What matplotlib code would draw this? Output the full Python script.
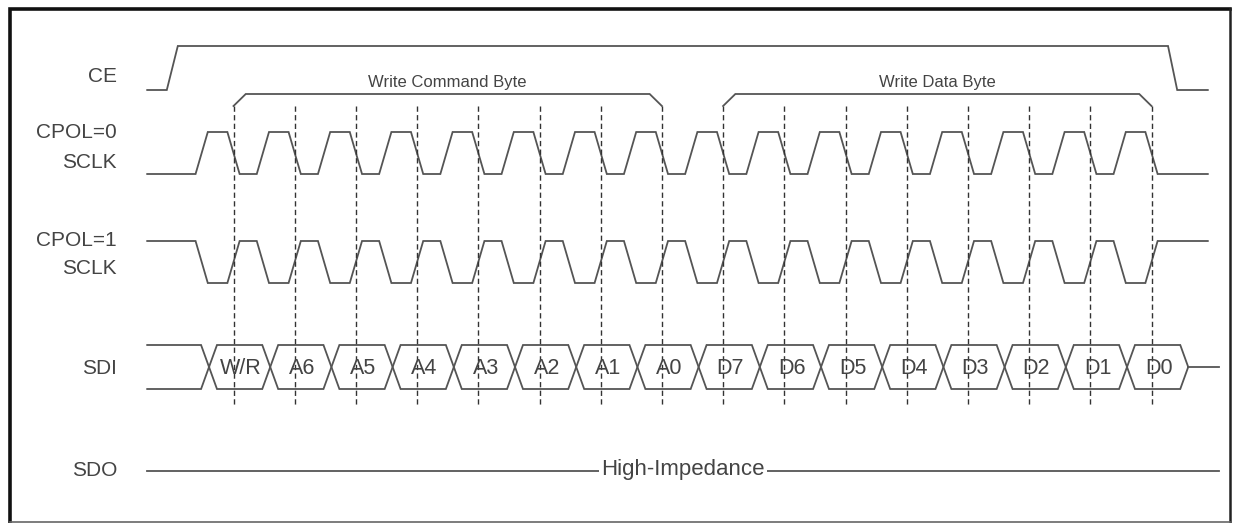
import matplotlib
matplotlib.use("Agg")
import matplotlib.pyplot as plt
from matplotlib.patches import Polygon

plt.rcParams['font.family'] = ['Liberation Sans', 'DejaVu Sans']

# timing data, in SCLK periods (0 = first falling edge of SCLK with CPOL=0)
signal_labels = ["CE", "CPOL=0", "SCLK", "CPOL=1", "SCLK", "SDI", "SDO"]
bit_labels = ["W/R", "A6", "A5", "A4", "A3", "A2", "A1", "A0",
              "D7", "D6", "D5", "D4", "D3", "D2", "D1", "D0"]
byte_groups = ["Write Command Byte", "Write Data Byte"]
byte_first_bit = [0, 8]
byte_last_bit = [7, 15]
n_clocks = 16
t_start = -1.41
t_end = 15.92
sdi_end = 16.10
ce_rise = [-1.09, -0.91]
ce_fall = [15.27, 15.42]
rise_offset = -0.52     # rising edge of CPOL=0 relative to next falling edge
data_offset = -0.40     # SDI changes this much before each sampling edge
edge_w = 0.20
x_half = 0.13
hiz_text = "High-Impedance"

# layout (pixel rows, y grows downwards)
W, H = 1233, 523
px_per_t = 61.2
x0_px = 233.5
ce_hi, ce_lo = 46, 90
c0_hi, c0_lo = 132, 174
c1_hi, c1_lo = 241, 283
sdi_top, sdi_bot = 345, 389
sdi_mid = (sdi_top + sdi_bot) / 2
sdo_y = 471
brk_y, brk_end_y = 94, 106
dash_top, dash_bot = 106, 405
label_rows = [77, 133, 162, 241, 268, 368, 470]
label_x = (117 - x0_px) / px_per_t

wave = dict(color='#555555', lw=1.3, solid_joinstyle='miter')
txt = '#444444'

fig = plt.figure(figsize=(W / 100, H / 100), dpi=100)
ax = fig.add_axes([0, 0, 1, 1])
ax.set_xlim(-x0_px / px_per_t, (W - x0_px) / px_per_t)
ax.set_ylim(H, 0)
ax.axis('off')

# CE
ax.plot([t_start, ce_rise[0], ce_rise[1], ce_fall[0], ce_fall[1], t_end],
        [ce_lo, ce_lo, ce_hi, ce_hi, ce_lo, ce_lo], **wave)


def sclk(lo, hi):
    xs, ys = [t_start], [lo]
    for k in range(n_clocks):
        r = k + rise_offset
        xs += [r - edge_w / 2, r + edge_w / 2, k - edge_w / 2, k + edge_w / 2]
        ys += [lo, hi, hi, lo]
    xs.append(t_end)
    ys.append(lo)
    return xs, ys


xs, ys = sclk(c0_lo, c0_hi)
ax.plot(xs, ys, **wave)
xs, ys = sclk(c1_hi, c1_lo)
ax.plot(xs, ys, **wave)

# SDI
changes = [k + data_offset for k in range(n_clocks + 1)]
ax.plot([t_start, changes[0] - x_half, changes[0]], [sdi_top, sdi_top, sdi_mid], **wave)
ax.plot([t_start, changes[0] - x_half, changes[0]], [sdi_bot, sdi_bot, sdi_mid], **wave)
for k, name in enumerate(bit_labels):
    a, b = changes[k], changes[k + 1]
    hexagon = [(a, sdi_mid), (a + x_half, sdi_top), (b - x_half, sdi_top),
               (b, sdi_mid), (b - x_half, sdi_bot), (a + x_half, sdi_bot)]
    ax.add_patch(Polygon(hexagon, closed=True, fill=False, edgecolor='#555555',
                         lw=1.3, joinstyle='miter'))
    ax.text((a + b) / 2 + 0.02, sdi_mid + 1, name, ha='center', va='center',
            fontsize=15.5, color=txt)
ax.plot([changes[-1], sdi_end], [sdi_mid, sdi_mid], **wave)

# SDO
ax.plot([t_start, sdi_end], [sdo_y, sdo_y], **wave)
ax.text((t_start + sdi_end) / 2, sdo_y - 1, hiz_text, ha='center', va='center',
        fontsize=16, color=txt,
        bbox=dict(facecolor='white', edgecolor='none', pad=1.5))

# sampling edges
for k in range(n_clocks):
    ax.plot([k, k], [dash_top, dash_bot], color='#333333', lw=1.0,
            dashes=(3.8, 2.4))

# byte brackets
for name, a, b in zip(byte_groups, byte_first_bit, byte_last_bit):
    ax.plot([a, a + 0.2, b - 0.2, b], [brk_end_y, brk_y, brk_y, brk_end_y], **wave)
    ax.text((a + b) / 2, brk_y - 11, name, ha='center', va='center',
            fontsize=12, color=txt)

# signal names
for name, y in zip(signal_labels, label_rows):
    ax.text(label_x, y, name, ha='right', va='center', fontsize=15, color=txt)

# frame: heavy top/left, lighter right/bottom
ax.plot([9.5 / W, 9.5 / W, 1229.5 / W],
        [1 - 521.5 / H, 1 - 8.5 / H, 1 - 8.5 / H],
        transform=ax.transAxes, color='#111111', lw=2.6, solid_joinstyle='miter')
ax.plot([1229.5 / W, 1229.5 / W], [1 - 8.5 / H, 1 - 521.5 / H],
        transform=ax.transAxes, color='#222222', lw=1.8)
ax.plot([9.5 / W, 1229.5 / W], [1 - 521.5 / H, 1 - 521.5 / H],
        transform=ax.transAxes, color='#666666', lw=1.2)

fig.savefig("out.png", dpi=100, facecolor='white')
